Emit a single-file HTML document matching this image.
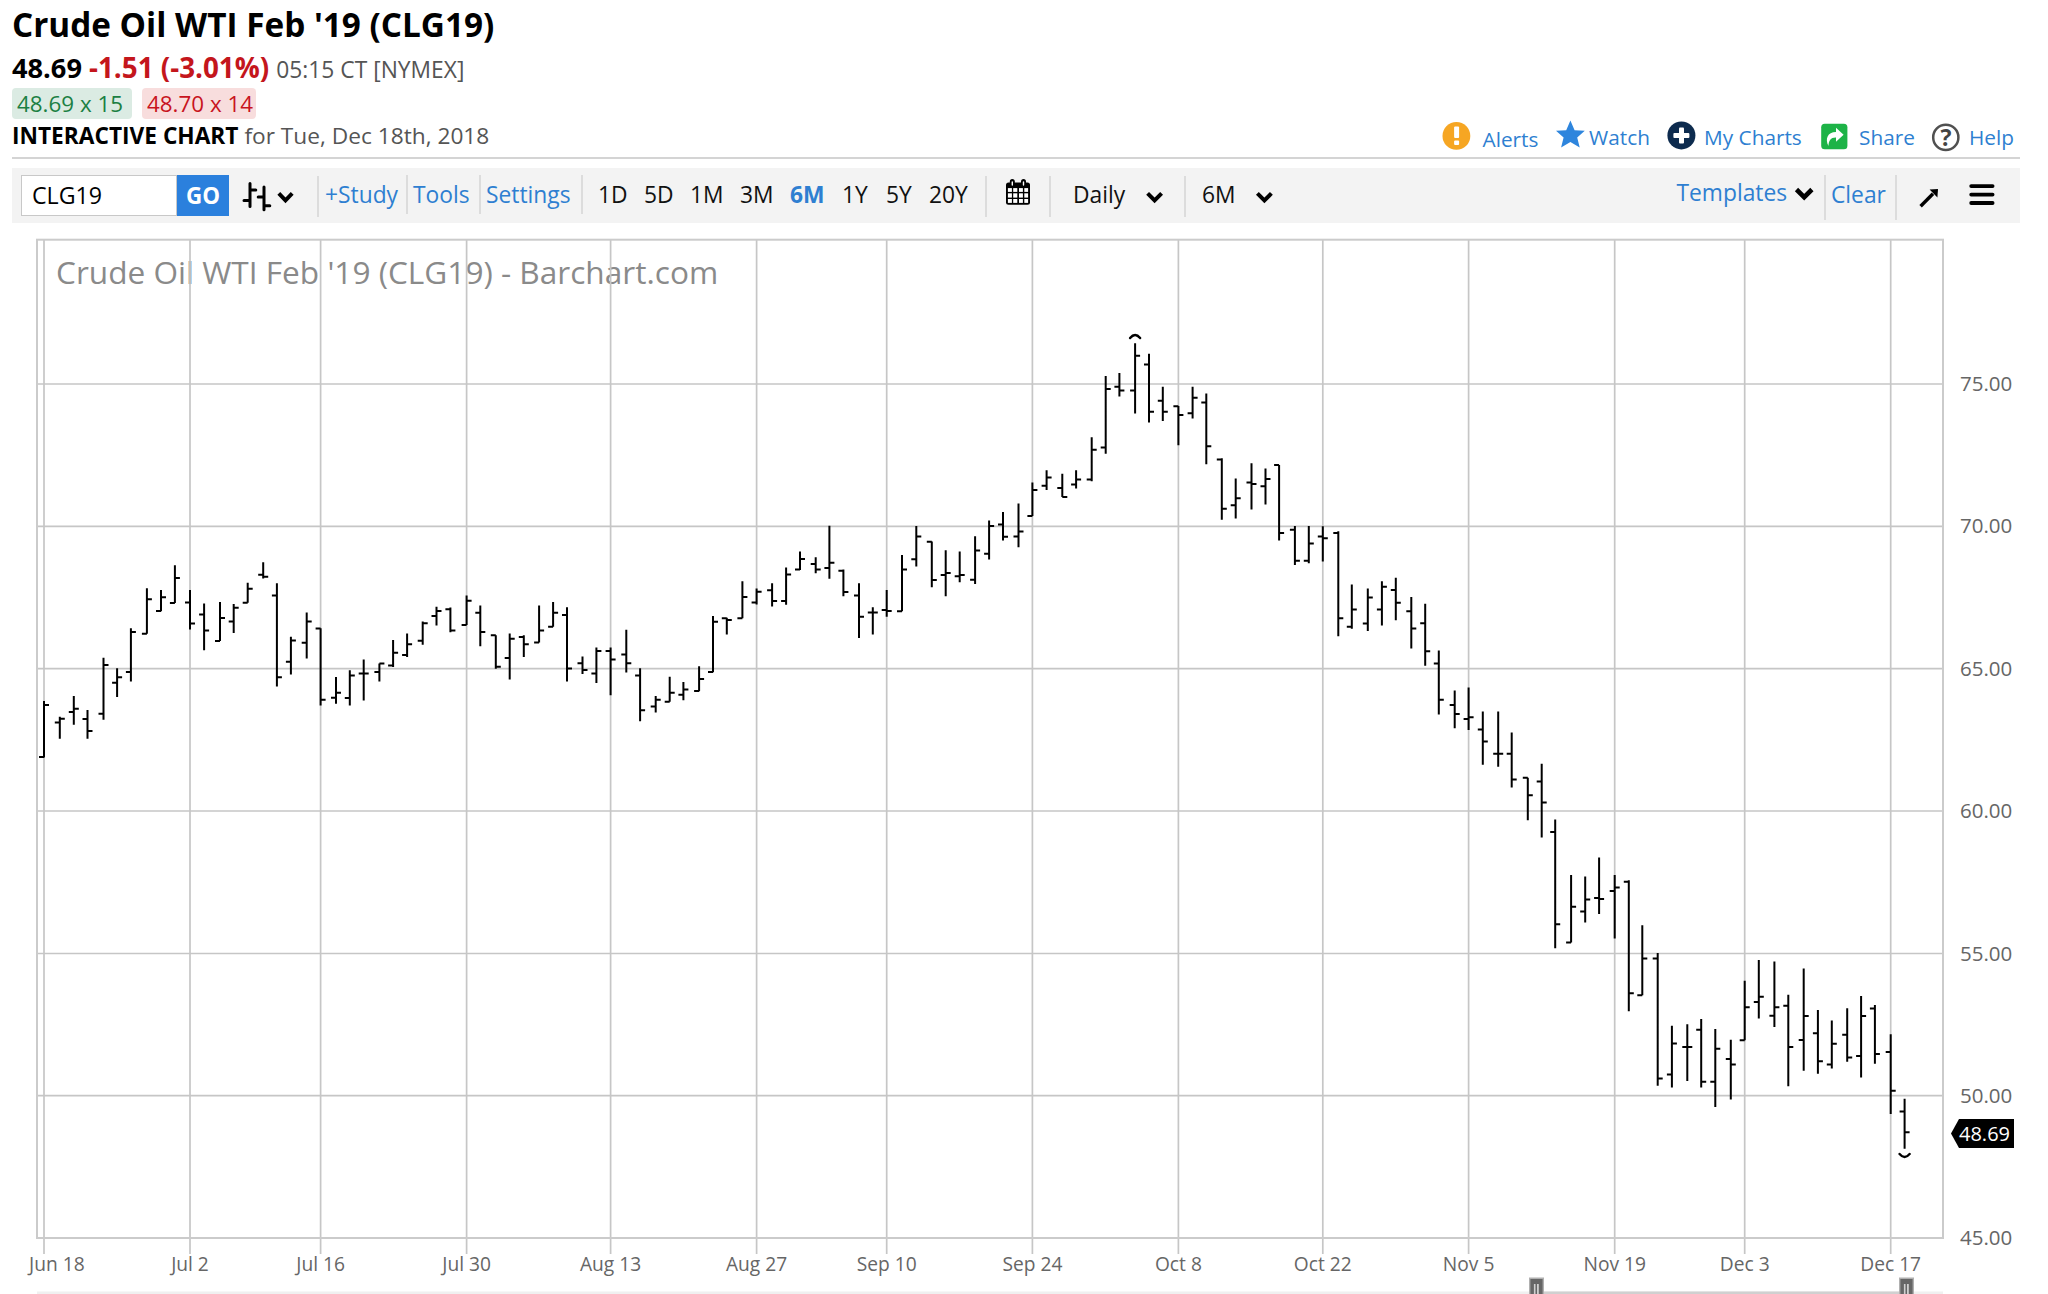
<!DOCTYPE html>
<html><head><meta charset="utf-8"><title>Crude Oil WTI Feb '19 (CLG19) - Barchart.com</title>
<style>
html,body{margin:0;padding:0;background:#fff;}
body{width:2048px;height:1294px;overflow:hidden;position:relative;font-family:"Open Sans","Liberation Sans",sans-serif;color:#000;}
.a{position:absolute;white-space:nowrap;}
#title{left:12px;top:1.2px;font-size:33.3px;font-weight:700;line-height:46px;}
#quote{left:12px;top:48px;font-size:27.2px;line-height:38px;}
#quote b{font-weight:700;}
#quote .dn{color:#c4161c;font-weight:700;font-size:27.8px;}
#quote .tm{color:#555;font-size:22.8px;}
.pill{top:88px;height:30.5px;line-height:31.5px;font-size:22.4px;border-radius:4px;padding:0 5px;}
#bid{left:12px;width:110px;background:#dbebe3;color:#1b8043;}
#ask{left:142px;width:104px;background:#f8dddd;color:#c8141e;}
#ic{left:12px;top:121px;font-size:22.7px;line-height:30px;}
#ic b{font-weight:700;}
#ic span{color:#555;}
.lnk{color:#2e7fd1;font-size:20.8px;line-height:30px;top:122px;}
#hr{left:12px;top:157px;width:2008px;height:2px;background:#d4d4d4;}
#tb{left:12px;top:168px;width:2008px;height:55px;background:#f3f3f3;}
#sym{left:21px;top:175px;width:154px;height:39px;border:1px solid #c8c8c8;background:#fff;font-size:23.2px;line-height:39px;}
#sym span{position:absolute;left:10px;top:0;}
#go{left:177px;top:175px;width:52px;height:41px;background:#2b80dd;color:#fff;font-weight:700;font-size:22.4px;line-height:41px;text-align:center;}
.sep{top:176px;width:2px;height:41px;background:#dcdcdc;}
.tl{top:178px;font-size:22.8px;line-height:34px;color:#2e7fd1;}
.tk{top:178px;font-size:22.8px;line-height:34px;color:#111;}
</style></head><body>
<div class="a" id="title">Crude Oil WTI Feb '19 (CLG19)</div>
<div class="a" id="quote"><b>48.69</b> <span class="dn">-1.51 (-3.01%)</span> <span class="tm">05:15 CT [NYMEX]</span></div>
<div class="a pill" id="bid">48.69 x 15</div>
<div class="a pill" id="ask">48.70 x 14</div>
<div class="a" id="ic"><b>INTERACTIVE CHART</b> <span>for Tue, Dec 18th, 2018</span></div>
<svg class="a" style="left:1440px;top:118px" width="32" height="36" viewBox="1440 118 32 36"><circle cx="1456.4" cy="135.9" r="13.9" fill="#f6a623"/><rect x="1454.1" y="126.4" width="5" height="11.5" rx="1" fill="#fff"/><rect x="1454.1" y="140.6" width="5" height="4.4" rx="1" fill="#fff"/></svg>
<div class="a lnk" style="left:1482.5px;top:123.5px">Alerts</div>
<svg class="a" style="left:1554px;top:118px" width="33" height="32" viewBox="1554 118 33 32"><path d="M1570.4 120.5L1574.6 130.2L1584.8 130.7L1577.2 137.5L1579.7 147.4L1570.4 142L1561.1 147.4L1563.6 137.5L1556 130.7L1566.2 130.2Z" fill="#2e85dd"/></svg>
<div class="a lnk" style="left:1589px">Watch</div>
<svg class="a" style="left:1665px;top:119px" width="33" height="33" viewBox="1665 119 33 33"><circle cx="1681.4" cy="135.4" r="14" fill="#0d2b4e"/><rect x="1679" y="127.5" width="5" height="16" rx="1" fill="#fff"/><rect x="1673.4" y="133" width="16" height="5" rx="1" fill="#fff"/></svg>
<div class="a lnk" style="left:1704px">My Charts</div>
<svg class="a" style="left:1819px;top:121px" width="31" height="31" viewBox="1819 121 31 31"><rect x="1821.2" y="123.7" width="26.2" height="25.5" rx="3.5" fill="#1db347"/><path d="M1828.5 146C1824.8 139 1827.5 132 1836 132V127.8L1843.6 134.8L1836 141.8V137.4C1831 137.2 1828.5 140.5 1828.5 146Z" fill="#fff"/></svg>
<div class="a lnk" style="left:1859px">Share</div>
<svg class="a" style="left:1930px;top:122px" width="32" height="32" viewBox="1930 122 32 32"><circle cx="1945.8" cy="137.4" r="12.6" fill="none" stroke="#505050" stroke-width="2.5"/><text x="1946" y="146.2" text-anchor="middle" font-size="23" font-weight="700" fill="#444" font-family="Open Sans, Liberation Sans, sans-serif">?</text></svg>
<div class="a lnk" style="left:1969px">Help</div>

<div class="a" id="hr"></div>
<div class="a" id="tb"></div>
<div class="a" id="sym"><span>CLG19</span></div>
<div class="a" id="go">GO</div>
<svg class="a" style="left:236px;top:176px" width="66" height="40" viewBox="236 176 66 40"><path d="M250 183.5V206.4M250 190H255.8M244 200.4H250M264 187.1V209.8M258.2 197H264M264 205.7H269.8" stroke="#000" stroke-width="3" stroke-linecap="round" fill="none"/><path d="M278.8 193.3L285.5 200.4L292.2 193.3" stroke="#000" stroke-width="3.9" fill="none"/></svg>
<div class="a sep" style="left:317px"></div>
<div class="a tl" style="left:325px">+Study</div>
<div class="a sep" style="left:406px;top:175px;height:39px"></div>
<div class="a tl" style="left:413px">Tools</div>
<div class="a sep" style="left:479px;top:175px;height:39px"></div>
<div class="a tl" style="left:486px">Settings</div>
<div class="a sep" style="left:581px;top:175px;height:39px"></div>
<div class="a tk" style="left:598px">1D</div>
<div class="a tk" style="left:644px">5D</div>
<div class="a tk" style="left:690px">1M</div>
<div class="a tk" style="left:740px">3M</div>
<div class="a tk" style="left:790px;color:#2e7fd1;font-weight:700">6M</div>
<div class="a tk" style="left:842px">1Y</div>
<div class="a tk" style="left:886px">5Y</div>
<div class="a tk" style="left:929px">20Y</div>
<div class="a sep" style="left:985px"></div>
<svg class="a" style="left:1000px;top:176px" width="36" height="32" viewBox="1000 176 36 32"><rect x="1006" y="182.4" width="24" height="22.4" rx="2.5" fill="#000"/><g fill="#fff"><rect x="1007.9" y="188.1" width="4" height="3.8"/><rect x="1013.2" y="188.1" width="4.1" height="3.8"/><rect x="1019" y="188.1" width="3.9" height="3.8"/><rect x="1024.3" y="188.1" width="3.8" height="3.8"/><rect x="1007.9" y="193.3" width="4" height="4.3"/><rect x="1013.2" y="193.3" width="4.1" height="4.3"/><rect x="1019" y="193.3" width="3.9" height="4.3"/><rect x="1024.3" y="193.3" width="3.8" height="4.3"/><rect x="1007.9" y="199" width="4" height="3.9"/><rect x="1013.2" y="199" width="4.1" height="3.9"/><rect x="1019" y="199" width="3.9" height="3.9"/><rect x="1024.3" y="199" width="3.8" height="3.9"/></g><rect x="1009.8" y="179" width="5" height="7.5" rx="2.5" fill="#000"/><rect x="1021" y="179" width="5" height="7.5" rx="2.5" fill="#000"/><rect x="1011.6" y="181.2" width="1.4" height="4.6" rx="0.7" fill="#fff"/><rect x="1022.8" y="181.2" width="1.4" height="4.6" rx="0.7" fill="#fff"/></svg>
<div class="a sep" style="left:1049px"></div>
<div class="a tk" style="left:1073px">Daily</div>
<svg class="a" style="left:1140px;top:186px" width="30" height="22" viewBox="1140 186 30 22"><path d="M1147.6 193.4L1154.6 200.4L1161.6 193.4" stroke="#000" stroke-width="4" fill="none"/></svg>
<div class="a sep" style="left:1184px"></div>
<div class="a tk" style="left:1202px">6M</div>
<svg class="a" style="left:1250px;top:186px" width="30" height="22" viewBox="1250 186 30 22"><path d="M1257.4 193.4L1264.4 200.4L1271.4 193.4" stroke="#000" stroke-width="4" fill="none"/></svg>
<div class="a tl" style="left:1676.5px;top:176.3px">Templates</div>
<svg class="a" style="left:1790px;top:182px" width="30" height="22" viewBox="1790 182 30 22"><path d="M1796.5 189.5L1804.2 197.2L1811.9 189.5" stroke="#000" stroke-width="4.6" fill="none"/></svg>
<div class="a sep" style="left:1824px;top:175px;height:45px"></div>
<div class="a tl" style="left:1831px">Clear</div>
<div class="a sep" style="left:1895px;top:175px;height:45px"></div>
<svg class="a" style="left:1912px;top:182px" width="32" height="30" viewBox="1912 182 32 30"><path d="M1920.6 206.2L1933 193.8" stroke="#000" stroke-width="3.4" fill="none"/><path d="M1929.6 189.6L1938 188.9L1937.4 197.4Z" fill="#000"/></svg>
<svg class="a" style="left:1964px;top:180px" width="36" height="30" viewBox="1964 180 36 30"><path d="M1971.2 186.1H1992.6M1971.2 194.6H1992.6M1971.2 203H1992.6" stroke="#000" stroke-width="3.8" stroke-linecap="round" fill="none"/></svg>

<svg class="a" style="left:0;top:0" width="2048" height="1294" viewBox="0 0 2048 1294">
<text x="56" y="284" font-size="31.6" fill="#8a8a8a" font-family="Open Sans, Liberation Sans, sans-serif">Crude Oil WTI Feb '19 (CLG19) - Barchart.com</text>
<path d="M37 384H1943M37 526.3H1943M37 668.6H1943M37 811H1943M37 953.5H1943M37 1095.7H1943M44.0 239V1254M190.0 239V1254M320.6 239V1254M466.6 239V1254M610.6 239V1254M756.6 239V1254M886.7 239V1254M1032.4 239V1254M1178.4 239V1254M1322.8 239V1254M1468.6 239V1254M1614.7 239V1254M1744.7 239V1254M1890.7 239V1254" stroke="#c6c6c6" stroke-width="1.7" fill="none"/>
<rect x="37" y="239.7" width="1906" height="998.3" fill="none" stroke="#cbcbcb" stroke-width="2"/>
<path d="M44.0 701.0V757.5M39.0 757.0H44.0M44.0 705.0H49.0M59.8 716.7V738.8M54.8 722.6H59.8M59.8 718.7H64.8M73.8 695.9V724.8M68.8 711.9H73.8M73.8 708.7H78.8M87.5 709.9V738.8M82.5 718.9H87.5M87.5 731.1H92.5M103.5 657.7V719.7M98.5 713.8H103.5M103.5 665.1H108.5M117.1 668.2V697.1M112.1 682.7H117.1M117.1 677.2H122.1M130.9 628.2V681.5M125.9 671.9H130.9M130.9 632.1H135.9M146.9 588.3V633.8M141.9 633.8H146.9M146.9 599.3H151.9M161 590.0V611.2M156 610.9H161M161 597.3H166M174.9 565.3V603.1M169.9 603.1H174.9M174.9 578.0H179.9M190.0 590.0V629.6M185.0 602.4H190.0M190.0 623.5H195.0M204.1 603.6V650.3M199.1 614.6H204.1M204.1 630.4H209.1M220 601.9V641.0M215 641.0H220M220 618.0H225M233.7 604.0V633.0M228.7 621.4H233.7M233.7 607.8H238.7M247.7 582.8V602.7M242.7 602.7H247.7M247.7 588.8H252.7M263.2 562.2V578.6M258.2 574.7H263.2M263.2 576.7H268.2M276.9 583.2V686.6M271.9 595.6H276.9M276.9 677.2H281.9M290.9 636.7V674.5M285.9 661.7H290.9M290.9 640.6H295.9M306.7 612.4V658.5M301.7 642.7H306.7M306.7 621.4H311.7M320.6 628.2V705.6M315.6 628.6H320.6M320.6 699.7H325.6M336.0 677.0V703.7M331.0 697.8H336.0M336.0 692.7H341.0M349.8 670.2V705.4M344.8 698.1H349.8M349.8 675.6H354.8M363.7 659.5V700.6M358.7 673.6H363.7M363.7 673.6H368.7M379.4 663.4V681.6M374.4 671.9H379.4M379.4 663.4H384.4M393.1 639.9V667.1M388.1 665.4H393.1M393.1 652.7H398.1M407.1 633.5V656.9M402.1 654.9H407.1M407.1 644.2H412.1M422.7 621.6V644.7M417.7 640.8H422.7M422.7 623.3H427.7M436.5 606.8V625.5M431.5 616.1H436.5M436.5 611.0H441.5M450.4 607.6V632.3M445.4 609.3H450.4M450.4 630.6H455.4M466.6 595.4V625.1M461.6 625.1H466.6M466.6 600.8H471.6M480.3 605.5V646.3M475.3 612.8H480.3M480.3 631.9H485.3M495.8 635.3V668.8M490.8 635.3H495.8M495.8 666.7H500.8M509.7 633.6V679.5M504.7 657.9H509.7M509.7 638.7H514.7M523.8 635.3V656.9M518.8 637.0H523.8M523.8 644.3H528.8M539.1 605.5V642.6M534.1 642.6H539.1M539.1 630.5H544.1M553.1 602.1V626.8M548.1 626.8H553.1M553.1 612.7H558.1M567 607.2V681.5M562 614.9H567M567 668.4H572M582.5 656.5V674.0M577.5 663.3H582.5M582.5 670.1H587.5M596.4 647.5V682.9M591.4 673.5H596.4M596.4 651.1H601.4M610.6 647.5V695.3M605.6 651.1H610.6M610.6 659.6H615.6M626.3 629.7V672.6M621.3 654.4H626.3M626.3 663.2H631.3M640.1 668.3V721.2M635.1 675.6H640.1M640.1 710.2H645.1M655.7 696.0V712.6M650.7 706.6H655.7M655.7 699.8H660.7M669.7 676.8V701.7M664.7 701.7H669.7M669.7 692.7H674.7M683.4 682.1V700.3M678.4 694.7H683.4M683.4 689.6H688.4M699.1 666.3V691.3M694.1 691.0H699.1M699.1 679.0H704.1M713 616.1V672.2M708 671.9H713M713 621.7H718M726.8 617.8V634.5M721.8 618.3H726.8M726.8 620.0H731.8M742.4 581.3V618.3M737.4 618.3H742.4M742.4 597.1H747.4M756.6 588.6V604.6M751.6 602.5H756.6M756.6 591.8H761.6M772.1 583.2V606.5M767.1 590.3H772.1M772.1 600.9H777.1M786.1 567.4V604.8M781.1 600.9H786.1M786.1 574.5H791.1M800 551.6V569.9M795 569.6H800M800 558.9H805M815.7 557.2V573.3M810.7 564.0H815.7M815.7 569.4H820.7M829.4 525.7V578.8M824.4 567.9H829.4M829.4 562.8H834.4M843.4 569.6V596.3M838.4 570.8H843.4M843.4 592.0H848.4M859 583.2V638.0M854 595.4H859M859 616.7H864M872.8 607.3V634.6M867.8 612.4H872.8M872.8 612.4H877.8M886.7 590.0V616.7M881.7 609.9H886.7M886.7 611.1H891.7M902 555.1V611.3M897 611.3H902M902 569.4H907M916.3 525.9V566.6M911.3 559.3H916.3M916.3 536.5H921.3M931.8 541.4V587.3M926.8 541.7H931.8M931.8 580.0H936.8M945.7 550.2V596.3M940.7 574.9H945.7M945.7 572.9H950.7M959.7 551.6V582.2M954.7 576.3H959.7M959.7 574.9H964.7M975.1 536.3V583.9M970.1 579.7H975.1M975.1 550.4H980.1M989.1 520.5V559.6M984.1 553.8H989.1M989.1 526.1H994.1M1003 512.0V540.5M998 524.4H1003M1003 536.8H1008M1018.5 503.5V547.3M1013.5 536.6H1018.5M1018.5 531.5H1023.5M1032.4 482.4V515.9M1027.4 515.9H1032.4M1032.4 489.9H1037.4M1046.6 470.3V489.9M1041.6 485.8H1046.6M1046.6 477.6H1051.6M1062.3 473.7V496.9M1057.3 487.9H1062.3M1062.3 496.9H1067.3M1076.1 470.2V488.4M1071.1 484.5H1076.1M1076.1 479.4H1081.1M1091.7 437.3V481.2M1086.7 479.5H1091.7M1091.7 449.8H1096.7M1105.7 376.1V453.8M1100.7 447.6H1105.7M1105.7 388.9H1110.7M1119.4 373.1V396.5M1114.4 386.8H1119.4M1119.4 390.6H1124.4M1135.1 343.3V413.5M1130.1 390.6H1135.1M1135.1 355.7H1140.1M1149 353.7V422.6M1144 364.6H1149M1149 411.8H1154M1162.8 386.8V420.9M1157.8 400.8H1162.8M1162.8 411.8H1167.8M1178.4 405.9V445.3M1173.4 406.2H1178.4M1178.4 414.9H1183.4M1192.6 386.8V418.6M1187.6 413.2H1192.6M1192.6 397.7H1197.6M1206.3 393.6V464.2M1201.3 402.6H1206.3M1206.3 446.2H1211.3M1221.8 458.2V519.8M1216.8 459.6H1221.8M1221.8 508.7H1226.8M1235.7 478.6V518.6M1230.7 505.3H1235.7M1235.7 498.2H1240.7M1251.5 463.3V509.6M1246.5 482.6H1251.5M1251.5 484.1H1256.5M1265.5 468.4V504.5M1260.5 486.3H1265.5M1265.5 479.1H1270.5M1279.1 465.0V540.4M1274.1 465.0H1279.1M1279.1 533.1H1284.1M1294.9 525.9V565.0M1289.9 529.7H1294.9M1294.9 560.8H1299.9M1308.8 525.9V563.3M1303.8 560.8H1308.8M1308.8 543.6H1313.8M1322.8 526.3V561.6M1317.8 536.5H1322.8M1322.8 538.2H1327.8M1338.3 531.3V636.2M1333.3 533.0H1338.3M1338.3 618.3H1343.3M1351.8 584.6V628.8M1346.8 626.8H1351.8M1351.8 609.6H1356.8M1367.8 588.4V630.9M1362.8 623.4H1367.8M1367.8 597.4H1372.8M1381.9 581.2V625.4M1376.9 609.6H1381.9M1381.9 586.8H1386.9M1395.8 577.8V620.3M1390.8 590.1H1395.8M1395.8 602.8H1400.8M1411.3 597.0V648.4M1406.3 611.3H1411.3M1411.3 628.5H1416.3M1425.2 603.7V665.7M1420.2 623.2H1425.2M1425.2 651.3H1430.2M1438.8 650.6V714.4M1433.8 663.4H1438.8M1438.8 699.8H1443.8M1454.7 690.6V728.3M1449.7 704.9H1454.7M1454.7 713.9H1459.7M1468.6 687.5V730.0M1463.6 719.0H1468.6M1468.6 717.3H1473.6M1482.8 711.6V764.7M1477.8 729.4H1482.8M1482.8 741.5H1487.8M1498.2 711.6V766.7M1493.2 753.7H1498.2M1498.2 753.7H1503.2M1511.7 732.5V787.5M1506.7 753.7H1511.7M1511.7 779.6H1516.7M1527.8 777.7V820.2M1522.8 777.7H1527.8M1527.8 795.3H1532.8M1541.7 763.8V837.6M1536.7 781.5H1541.7M1541.7 802.4H1546.7M1555.2 819.4V948.3M1550.2 832.0H1555.2M1555.2 924.2H1560.2M1571.1 874.9V942.5M1566.1 942.5H1571.1M1571.1 906.8H1576.1M1585.2 876.4V922.6M1580.2 911.6H1585.2M1585.2 899.6H1590.2M1599.1 857.5V914.1M1594.1 898.1H1599.1M1599.1 899.0H1604.1M1614.7 874.9V938.6M1609.7 890.9H1614.7M1614.7 887.4H1619.7M1628.8 880.3V1011.3M1623.8 881.8H1628.8M1628.8 993.3H1633.8M1642.3 925.3V995.3M1637.3 995.3H1642.3M1642.3 958.6H1647.3M1657.7 953.1V1085.7M1652.7 958.6H1657.7M1657.7 1078.4H1662.7M1671.9 1025.8V1087.6M1666.9 1074.5H1671.9M1671.9 1043.6H1676.9M1687.3 1024.3V1080.9M1682.3 1047.0H1687.3M1687.3 1047.0H1692.3M1701.2 1019.0V1087.6M1696.2 1029.7H1701.2M1701.2 1081.8H1706.2M1715.3 1029.1V1107.0M1710.3 1081.8H1715.3M1715.3 1048.8H1720.3M1730.8 1039.7V1099.6M1725.8 1059.0H1730.8M1730.8 1064.4H1735.8M1744.7 980.8V1040.3M1739.7 1040.3H1744.7M1744.7 1007.2H1749.7M1758.8 960.1V1018.5M1753.8 1002.0H1758.8M1758.8 996.8H1763.8M1774.4 961.5V1027.0M1769.4 1015.7H1774.4M1774.4 1007.2H1779.4M1788.3 994.7V1086.3M1783.3 1005.7H1788.3M1788.3 1046.9H1793.3M1803.7 968.4V1070.8M1798.7 1040.1H1803.7M1803.7 1015.9H1808.7M1817.9 1010.1V1073.7M1812.9 1033.3H1817.9M1817.9 1061.2H1822.9M1831.8 1020.6V1068.5M1826.8 1064.6H1831.8M1831.8 1043.8H1836.8M1847.2 1008.2V1061.7M1842.2 1034.7H1847.2M1847.2 1057.5H1852.2M1861.1 996.0V1077.6M1856.1 1055.9H1861.1M1861.1 1015.9H1866.1M1874.9 1005.1V1063.7M1869.9 1008.6H1874.9M1874.9 1054.0H1879.9M1890.7 1034.3V1113.9M1885.7 1052.1H1890.7M1890.7 1090.7H1895.7M1904.6 1098.8V1148.7M1899.6 1111.4H1904.6M1904.6 1132.3H1909.6" stroke="#000" stroke-width="2" fill="none"/>
<path d="M1130.1 338q5 -6 10 0M1899.6 1154q5 6 10 0" stroke="#000" stroke-width="2.4" stroke-linecap="round" fill="none"/>
<text x="1960" y="391" font-size="20.5" fill="#666" font-family="Open Sans, Liberation Sans, sans-serif">75.00</text>
<text x="1960" y="533.3" font-size="20.5" fill="#666" font-family="Open Sans, Liberation Sans, sans-serif">70.00</text>
<text x="1960" y="675.6" font-size="20.5" fill="#666" font-family="Open Sans, Liberation Sans, sans-serif">65.00</text>
<text x="1960" y="818" font-size="20.5" fill="#666" font-family="Open Sans, Liberation Sans, sans-serif">60.00</text>
<text x="1960" y="960.5" font-size="20.5" fill="#666" font-family="Open Sans, Liberation Sans, sans-serif">55.00</text>
<text x="1960" y="1102.7" font-size="20.5" fill="#666" font-family="Open Sans, Liberation Sans, sans-serif">50.00</text>
<text x="1960" y="1245" font-size="20.5" fill="#666" font-family="Open Sans, Liberation Sans, sans-serif">45.00</text>
<text x="29" y="1271" font-size="19.2" fill="#666" font-family="Open Sans, Liberation Sans, sans-serif">Jun 18</text>
<text x="190.0" y="1271" font-size="19.2" fill="#666" text-anchor="middle" font-family="Open Sans, Liberation Sans, sans-serif">Jul 2</text>
<text x="320.6" y="1271" font-size="19.2" fill="#666" text-anchor="middle" font-family="Open Sans, Liberation Sans, sans-serif">Jul 16</text>
<text x="466.6" y="1271" font-size="19.2" fill="#666" text-anchor="middle" font-family="Open Sans, Liberation Sans, sans-serif">Jul 30</text>
<text x="610.6" y="1271" font-size="19.2" fill="#666" text-anchor="middle" font-family="Open Sans, Liberation Sans, sans-serif">Aug 13</text>
<text x="756.6" y="1271" font-size="19.2" fill="#666" text-anchor="middle" font-family="Open Sans, Liberation Sans, sans-serif">Aug 27</text>
<text x="886.7" y="1271" font-size="19.2" fill="#666" text-anchor="middle" font-family="Open Sans, Liberation Sans, sans-serif">Sep 10</text>
<text x="1032.4" y="1271" font-size="19.2" fill="#666" text-anchor="middle" font-family="Open Sans, Liberation Sans, sans-serif">Sep 24</text>
<text x="1178.4" y="1271" font-size="19.2" fill="#666" text-anchor="middle" font-family="Open Sans, Liberation Sans, sans-serif">Oct 8</text>
<text x="1322.8" y="1271" font-size="19.2" fill="#666" text-anchor="middle" font-family="Open Sans, Liberation Sans, sans-serif">Oct 22</text>
<text x="1468.6" y="1271" font-size="19.2" fill="#666" text-anchor="middle" font-family="Open Sans, Liberation Sans, sans-serif">Nov 5</text>
<text x="1614.7" y="1271" font-size="19.2" fill="#666" text-anchor="middle" font-family="Open Sans, Liberation Sans, sans-serif">Nov 19</text>
<text x="1744.7" y="1271" font-size="19.2" fill="#666" text-anchor="middle" font-family="Open Sans, Liberation Sans, sans-serif">Dec 3</text>
<text x="1890.7" y="1271" font-size="19.2" fill="#666" text-anchor="middle" font-family="Open Sans, Liberation Sans, sans-serif">Dec 17</text>
<path d="M1951 1133.5L1959 1119H2014V1148H1959Z" fill="#000"/>
<text x="1959" y="1141" font-size="20" fill="#fff" font-family="Open Sans, Liberation Sans, sans-serif">48.69</text>
<rect x="37" y="1291.5" width="1906" height="3" fill="#f0f0f0"/>
<rect x="1537" y="1291.5" width="369" height="3" fill="#d0d0d0"/>
<rect x="1529" y="1277.5" width="15" height="17" fill="#b0b0b0"/><rect x="1530.4" y="1279" width="12.2" height="16" fill="#666"/><rect x="1533.9" y="1284" width="1.6" height="11" fill="#cfcfcf"/><rect x="1537" y="1284" width="1.8" height="11" fill="#cfcfcf"/>
<rect x="1899" y="1277.5" width="15" height="17" fill="#b0b0b0"/><rect x="1900.4" y="1279" width="12.2" height="16" fill="#666"/><rect x="1903.9" y="1284" width="1.6" height="11" fill="#cfcfcf"/><rect x="1907" y="1284" width="1.8" height="11" fill="#cfcfcf"/>
</svg>
</body></html>
